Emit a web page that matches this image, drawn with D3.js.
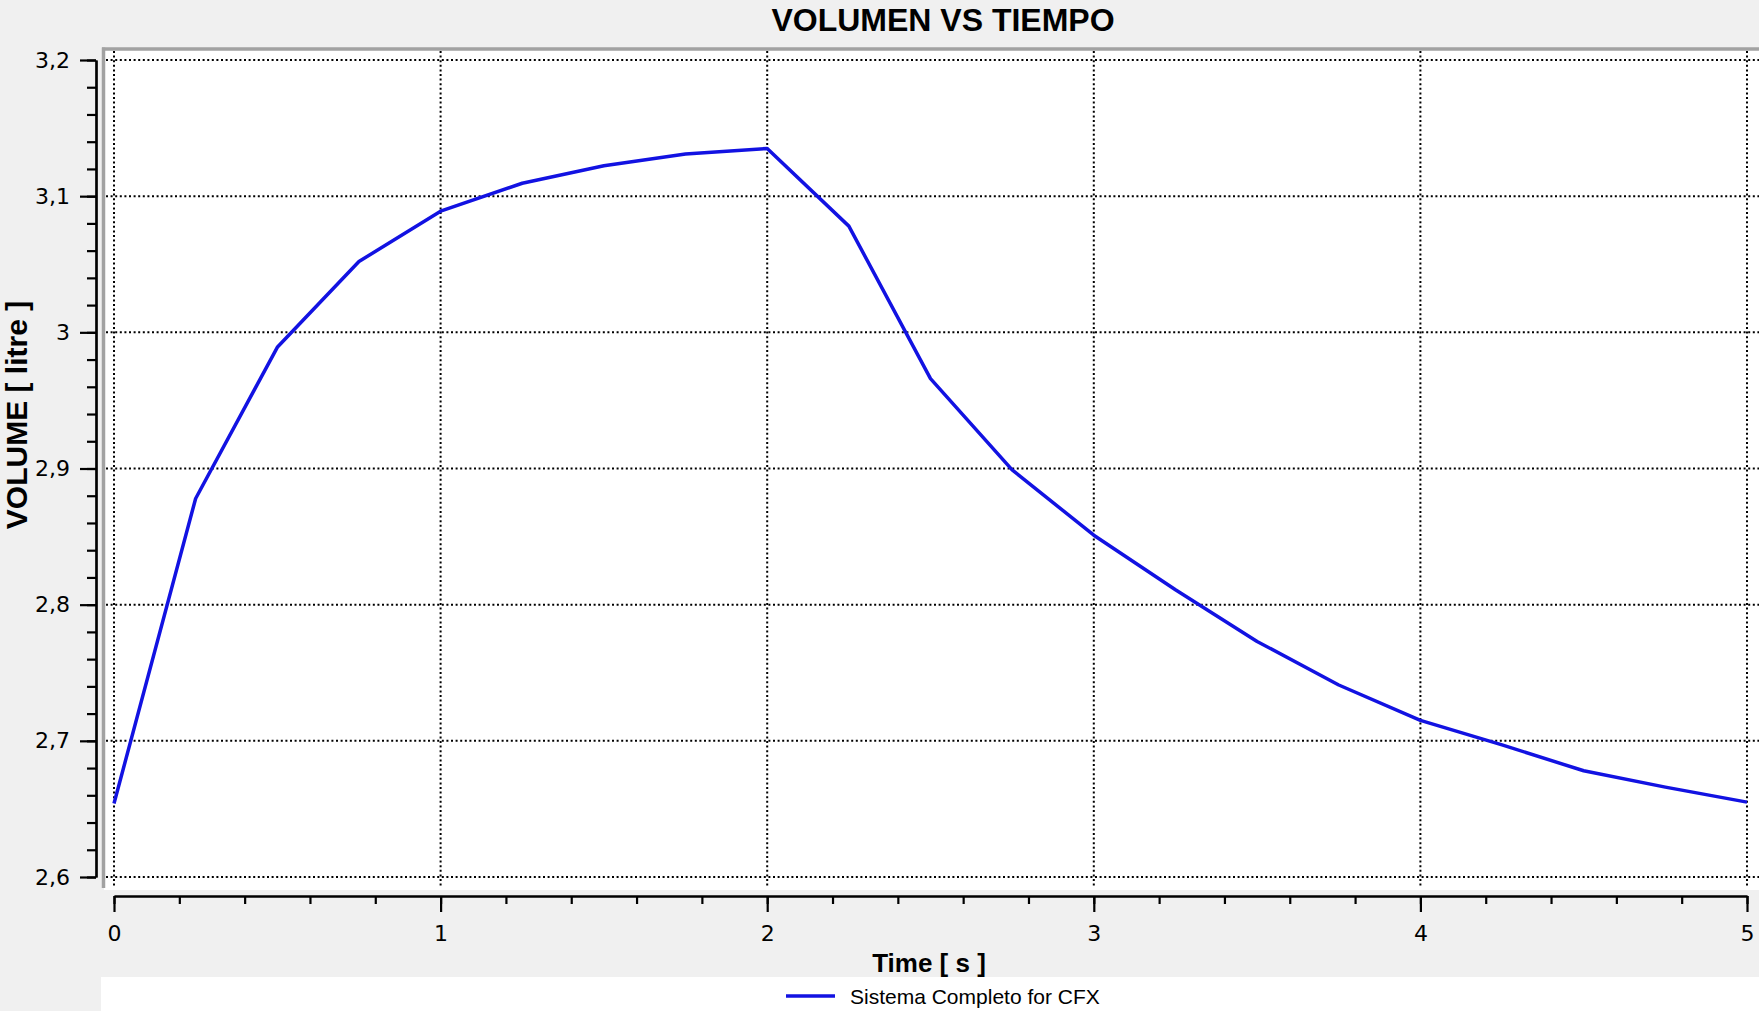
<!DOCTYPE html>
<meta charset="UTF-8">
<script src="https://d3js.org/d3.v7.min.js"></script>
<style>
body { margin: 0; background: #f0f0f0; }
.grid line { stroke: #000; stroke-width: 2; stroke-dasharray: 2,2.6; }
.axis path, .axis line { stroke: #000; stroke-width: 2.2; }
.axis text { font-family: "DejaVu Sans", sans-serif; font-size: 22px; fill: #000; }
</style>
<body>
<div id="mysvg"></div>
<script>

// time [s]
var tiempo = [0, 0.25, 0.5, 0.75, 1, 1.25, 1.5, 1.75, 2, 2.25, 2.5, 2.75, 3, 3.25, 3.5, 3.75, 4, 4.25, 4.5, 4.75, 5];
// volume [litre]
var volumen = [2.654, 2.878, 2.989, 3.052, 3.089, 3.1095, 3.1224, 3.131, 3.135, 3.078, 2.966, 2.899, 2.851, 2.811, 2.773, 2.741, 2.715, 2.697, 2.678, 2.666, 2.655];

var xTicks = [0, 1, 2, 3, 4, 5];
var yTicks = [2.6, 2.7, 2.8, 2.9, 3.0, 3.1, 3.2];
var serieName = "Sistema Completo for CFX";

var width = 1759, height = 1011;

var svg = d3.select("#mysvg")
  .append("svg")
    .attr("width", width)
    .attr("height", height);

svg.append("rect")
  .attr("width", width).attr("height", height)
  .attr("fill", "#f0f0f0");

// plot area
svg.append("rect")
  .attr("x", 104).attr("y", 49)
  .attr("width", width - 104).attr("height", 890 - 49)
  .attr("fill", "#fff");
svg.append("line")
  .attr("x1", 103.5).attr("x2", 103.5).attr("y1", 47.5).attr("y2", 888)
  .attr("stroke", "#a2a2a2").attr("stroke-width", 3.5);
svg.append("line")
  .attr("x1", 102).attr("x2", width).attr("y1", 49).attr("y2", 49)
  .attr("stroke", "#a2a2a2").attr("stroke-width", 3.5);

var x = d3.scaleLinear().domain([0, 5]).range([114, 1747]);
var y = d3.scaleLinear().domain([2.6, 3.2]).range([877, 60]);

var loc = d3.formatLocale({decimal: ",", thousands: ".", grouping: [3], currency: ["", ""]});
var fmt = loc.format(".1~f");

// grid
var grid = svg.append("g").attr("class", "grid");
grid.selectAll(".gy")
  .data(yTicks)
  .enter()
  .append("line")
    .attr("x1", 106).attr("x2", width)
    .attr("y1", function (d) { return y(d); })
    .attr("y2", function (d) { return y(d); });
grid.selectAll(".gx")
  .data(xTicks)
  .enter()
  .append("line")
    .attr("y1", 51).attr("y2", 886)
    .attr("x1", function (d) { return x(d); })
    .attr("x2", function (d) { return x(d); });

// minor ticks
var xMinor = d3.range(0, 5.001, 0.2);
var yMinor = d3.range(2.6, 3.2001, 0.02);

svg.append("g")
  .attr("class", "axis")
  .attr("transform", "translate(0,896)")
  .call(d3.axisBottom(x).tickValues(xMinor).tickSize(8).tickSizeOuter(0).tickFormat(""));
svg.append("g")
  .attr("class", "axis")
  .attr("transform", "translate(0,896)")
  .call(d3.axisBottom(x).tickValues(xTicks).tickSize(16).tickSizeOuter(0).tickPadding(13).tickFormat(fmt));

svg.append("g")
  .attr("class", "axis")
  .attr("transform", "translate(96,0)")
  .call(d3.axisLeft(y).tickValues(yMinor).tickSize(9).tickSizeOuter(0).tickFormat(""));
svg.append("g")
  .attr("class", "axis")
  .attr("transform", "translate(96,0)")
  .call(d3.axisLeft(y).tickValues(yTicks).tickSize(16).tickSizeOuter(0).tickPadding(10).tickFormat(fmt));

// curve
var pts = tiempo.map(function (t, i) { return [t, volumen[i]]; });
svg.append("path")
  .datum(pts)
  .attr("fill", "none")
  .attr("stroke", "#1212e2")
  .attr("stroke-width", 3.5)
  .attr("stroke-linejoin", "round")
  .attr("d", d3.line()
    .x(function (d) { return x(d[0]); })
    .y(function (d) { return y(d[1]); }));

// titles
svg.append("text")
  .attr("x", 943).attr("y", 31)
  .attr("text-anchor", "middle")
  .style("font-family", "'Liberation Sans', Arial, sans-serif")
  .style("font-weight", "bold")
  .style("font-size", "32px")
  .text("VOLUMEN VS TIEMPO");

svg.append("text")
  .attr("x", 929).attr("y", 972)
  .attr("text-anchor", "middle")
  .style("font-family", "'Liberation Sans', Arial, sans-serif")
  .style("font-weight", "bold")
  .style("font-size", "26px")
  .text("Time [ s ]");

svg.append("text")
  .attr("transform", "translate(27,415) rotate(-90)")
  .attr("text-anchor", "middle")
  .style("font-family", "'Liberation Sans', Arial, sans-serif")
  .style("font-weight", "bold")
  .style("font-size", "30px")
  .text("VOLUME [ litre ]");

// legend
svg.append("rect")
  .attr("x", 101).attr("y", 977)
  .attr("width", width - 101).attr("height", height - 977)
  .attr("fill", "#fff");
svg.append("line")
  .attr("x1", 786).attr("x2", 835).attr("y1", 996).attr("y2", 996)
  .attr("stroke", "#1212e2").attr("stroke-width", 3.5);
svg.append("text")
  .attr("x", 850).attr("y", 1004)
  .style("font-family", "'Liberation Sans', Arial, sans-serif")
  .style("font-size", "21px")
  .text(serieName);

</script>
</body>
